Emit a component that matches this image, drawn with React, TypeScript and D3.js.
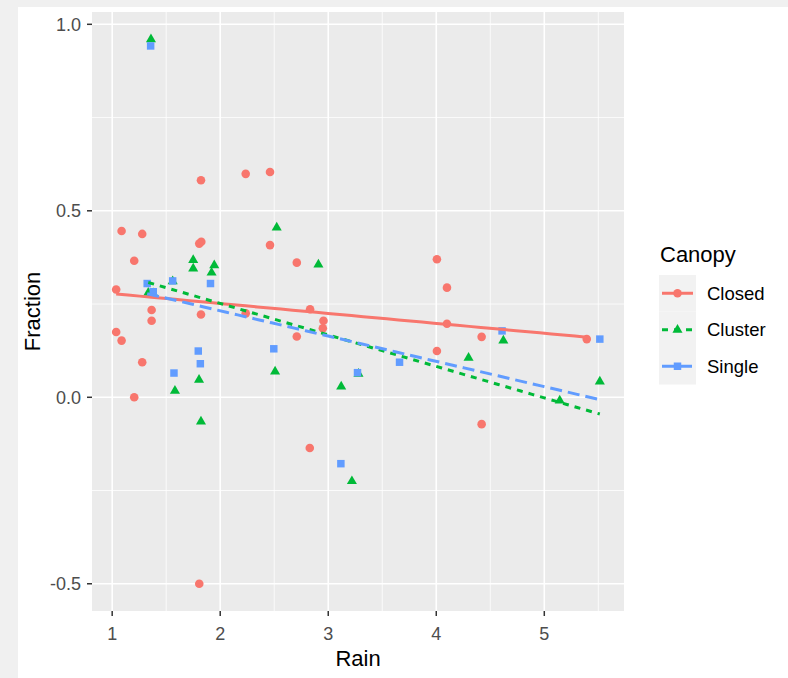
import React from 'react';
import * as d3 from 'd3';

// values
const canopies = ['Closed', 'Cluster', 'Single'];

const closedRain = [1.037, 1.037, 1.087, 1.087, 1.204, 1.204, 1.278, 1.278, 1.365, 1.365, 1.806, 1.825, 1.822, 1.822, 1.806, 2.236, 2.236, 2.461, 2.461, 2.709, 2.709, 2.832, 2.829, 2.956, 2.95, 4.006, 4.006, 4.099, 4.099, 4.42, 4.42, 5.393];
const closedFraction = [0.289, 0.175, 0.446, 0.152, 0.366, 0.0, 0.438, 0.094, 0.234, 0.205, 0.412, 0.417, 0.582, 0.222, -0.5, 0.599, 0.225, 0.604, 0.408, 0.361, 0.163, 0.236, -0.136, 0.205, 0.185, 0.37, 0.124, 0.294, 0.197, 0.162, -0.072, 0.156];

const clusterRain = [1.359, 1.334, 1.38, 1.56, 1.581, 1.75, 1.75, 1.804, 1.822, 1.945, 1.92, 2.508, 2.523, 2.909, 3.12, 3.219, 3.28, 4.299, 4.621, 5.143, 5.514];
const clusterFraction = [0.96, 0.28, 0.279, 0.311, 0.017, 0.368, 0.345, 0.047, -0.065, 0.354, 0.334, 0.069, 0.455, 0.356, 0.029, -0.225, 0.063, 0.106, 0.152, -0.009, 0.042];

const singleRain = [1.356, 1.324, 1.38, 1.56, 1.572, 1.797, 1.816, 1.91, 2.496, 3.117, 3.271, 3.66, 4.609, 5.514];
const singleFraction = [0.942, 0.305, 0.283, 0.312, 0.065, 0.124, 0.09, 0.305, 0.13, -0.178, 0.066, 0.094, 0.178, 0.156];

// lm fits per canopy (intercept, slope)
const fitIntercept = [0.3046, 0.4204, 0.3675];
const fitSlope = [-0.0266, -0.0844, -0.0678];

const xTicks = [1, 2, 3, 4, 5];
const yTicks = [-0.5, 0, 0.5, 1.0];
const xMinor = [1.5, 2.5, 3.5, 4.5, 5.5];
const yMinor = [-0.25, 0.25, 0.75];

const colors = ['#F8766D', '#00BA38', '#619CFF'];
const dashes = ['none', '6 6', '12 6'];
const shapes = [d3.symbolCircle, d3.symbolTriangle, d3.symbolSquare];
const shapeSizes = [58, 44, 56];

const W = 788;
const H = 678;
const panel = { left: 92, right: 624, top: 12, bottom: 611 };
const font = '"Liberation Sans", Arial, sans-serif';

const groups = [
  { rain: closedRain, frac: closedFraction },
  { rain: clusterRain, frac: clusterFraction },
  { rain: singleRain, frac: singleFraction },
];

function expand(ext: [number, number]): [number, number] {
  const pad = (ext[1] - ext[0]) * 0.05;
  return [ext[0] - pad, ext[1] + pad];
}

// R style labels use a plain hyphen
const fmt = (v: number) => v.toFixed(1);

export default function App() {
  const allRain = groups.flatMap((g) => g.rain);
  const allFrac = groups.flatMap((g) => g.frac);
  const x = d3.scaleLinear().domain(expand(d3.extent(allRain) as [number, number])).range([panel.left, panel.right]);
  const y = d3.scaleLinear().domain(expand(d3.extent(allFrac) as [number, number])).range([panel.bottom, panel.top]);

  const line = d3.line<number>().x((d) => x(d[0])).y((d) => y(d[1]));

  const legendX = 659;
  const legendTop = 275;
  const keyH = 36.5;
  const keyW = 37;

  return (
    <svg width={W} height={H} style={{ position: 'absolute', left: 0, top: 0 }} fontFamily={font}>
      <rect x={0} y={0} width={W} height={H} fill="#F0F0F0" />
      <rect x={18} y={7} width={W - 18} height={H - 7} fill="#FFFFFF" />

      <rect x={panel.left} y={panel.top} width={panel.right - panel.left} height={panel.bottom - panel.top} fill="#EBEBEB" />
      {xMinor.filter((v) => x(v) < panel.right).map((v) => (
        <line key={'xm' + v} x1={x(v)} x2={x(v)} y1={panel.top} y2={panel.bottom} stroke="#fff" strokeWidth={0.8} />
      ))}
      {yMinor.map((v) => (
        <line key={'ym' + v} x1={panel.left} x2={panel.right} y1={y(v)} y2={y(v)} stroke="#fff" strokeWidth={0.8} />
      ))}
      {xTicks.map((v) => (
        <line key={'xg' + v} x1={x(v)} x2={x(v)} y1={panel.top} y2={panel.bottom} stroke="#fff" strokeWidth={1.6} />
      ))}
      {yTicks.map((v) => (
        <line key={'yg' + v} x1={panel.left} x2={panel.right} y1={y(v)} y2={y(v)} stroke="#fff" strokeWidth={1.6} />
      ))}

      {groups.map((g, i) => (
        <g key={'pts' + i} fill={colors[i]}>
          {g.rain.map((r, j) => (
            <path
              key={j}
              d={d3.symbol().type(shapes[i]).size(shapeSizes[i])() as string}
              transform={`translate(${x(r)},${y(g.frac[j])})`}
            />
          ))}
        </g>
      ))}

      {groups.map((g, i) => {
        const [x0, x1] = d3.extent(g.rain) as [number, number];
        const pts: [number, number][] = d3.range(0, 41).map((k) => {
          const xv = x0 + ((x1 - x0) * k) / 40;
          return [xv, fitIntercept[i] + fitSlope[i] * xv];
        });
        return (
          <path key={'fit' + i} d={line(pts as any) as string} fill="none" stroke={colors[i]} strokeWidth={3} strokeDasharray={dashes[i]} />
        );
      })}

      {/* axes */}
      {xTicks.map((v) => (
        <g key={'xt' + v}>
          <line x1={x(v)} x2={x(v)} y1={panel.bottom} y2={panel.bottom + 5} stroke="#333" strokeWidth={1.5} />
          <text x={x(v)} y={640} textAnchor="middle" fontSize={18} fill="#4D4D4D">{v}</text>
        </g>
      ))}
      {yTicks.map((v) => (
        <g key={'yt' + v}>
          <line x1={panel.left - 5} x2={panel.left} y1={y(v)} y2={y(v)} stroke="#333" strokeWidth={1.5} />
          <text x={81} y={y(v)} dy="0.36em" textAnchor="end" fontSize={18} fill="#4D4D4D">{fmt(v)}</text>
        </g>
      ))}
      <text x={(panel.left + panel.right) / 2} y={666} textAnchor="middle" fontSize={22} fill="#000">Rain</text>
      <text transform={`translate(40,${(panel.top + panel.bottom) / 2}) rotate(-90)`} textAnchor="middle" fontSize={22} fill="#000">Fraction</text>

      {/* legend */}
      <text x={660} y={262} fontSize={22} fill="#000">Canopy</text>
      {canopies.map((c, i) => {
        const cy = legendTop + keyH * i + keyH / 2;
        return (
          <g key={'lg' + c}>
            <rect x={legendX} y={legendTop + keyH * i} width={keyW} height={keyH} fill="#F2F2F2" />
            <line x1={legendX + 3} x2={legendX + keyW - 3} y1={cy} y2={cy} stroke={colors[i]} strokeWidth={3} strokeDasharray={dashes[i]} />
            <path
              d={d3.symbol().type(shapes[i]).size(shapeSizes[i])() as string}
              transform={`translate(${legendX + keyW / 2},${cy})`}
              fill={colors[i]}
            />
            <text x={707} y={cy} dy="0.36em" fontSize={18.5} fill="#000">{c}</text>
          </g>
        );
      })}
    </svg>
  );
}
